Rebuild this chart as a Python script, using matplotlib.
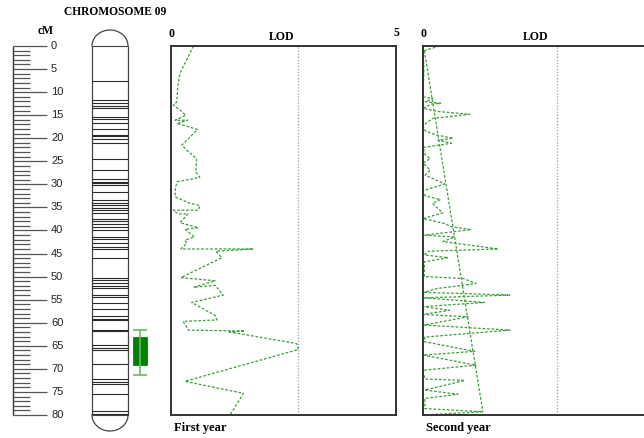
import numpy as np
import matplotlib
matplotlib.use("Agg")
import matplotlib.pyplot as plt

# genetic map of chromosome 9 (cM)
map_length = 80
band_cm = [7.6, 11.7, 12.3, 13.0, 13.4, 15.5, 15.9, 16.8, 18.1, 19.2, 19.5, 20.2, 21.0,
           24.6, 26.9, 28.9, 29.4, 29.8, 30.1, 31.6, 33.4, 34.0, 34.5, 35.2, 35.6, 36.2,
           37.4, 37.9, 38.6, 39.2, 39.8, 41.4, 41.9, 42.7, 43.5, 44.1, 45.9, 50.3, 50.8,
           51.3, 52.1, 52.4, 54.0, 54.4, 55.7, 57.1, 58.6, 59.1, 59.4, 61.5, 61.8, 64.9,
           65.4, 65.9, 69.0, 72.3, 72.8, 73.2, 75.4, 79.1, 79.7]

# QTL interval: box = 1-LOD support, whiskers = 2-LOD support
qtl_box = (63.1, 69.1)
qtl_whisker = (61.6, 71.3)

# LOD profile, first year
y1_cm = [0.0, 5.9, 8.8, 12.1, 12.8, 13.9, 15.0, 16.1, 16.1, 16.8, 17.6, 18.1, 21.5, 22.6,
         24.4, 27.3, 28.5, 29.4, 30.5, 32.7, 34.1, 34.6, 35.6, 35.6, 36.4, 36.4, 38.3,
         39.4, 39.7, 41.4, 42.1, 42.8, 44.0, 44.0, 44.5, 45.9, 50.2, 50.9, 52.3, 51.9,
         54.0, 55.6, 58.4, 59.4, 59.7, 61.6, 61.8, 62.0, 64.5, 65.8, 72.7, 75.3, 80.0]
y1_lod = [0.50, 0.20, 0.15, 0.13, 0.05, 0.20, 0.33, 0.09, 0.37, 0.13, 0.42, 0.59, 0.24, 0.35,
          0.57, 0.55, 0.64, 0.15, 0.10, 0.09, 0.42, 0.64, 0.61, 0.05, 0.16, 0.38, 0.20,
          0.61, 0.31, 0.52, 0.31, 0.35, 0.22, 1.83, 1.00, 1.13, 0.22, 0.98, 0.50, 0.98,
          1.16, 0.46, 0.98, 1.02, 0.27, 0.39, 1.64, 1.30, 2.79, 2.83, 0.31, 1.61, 1.31]

# LOD profile, second year
y2_cm = [0.0, 1.1, 5.0, 11.0, 11.4, 12.1, 12.4, 12.6, 13.5, 14.2, 14.8, 15.7, 16.4, 17.3,
         18.4, 19.3, 20.0, 20.4, 21.1, 22.0, 23.6, 24.4, 25.4, 26.9, 28.0, 29.9, 31.4,
         32.5, 33.3, 34.1, 36.2, 37.4, 38.5, 39.2, 39.8, 41.0, 41.4, 42.4, 44.0, 44.5,
         45.3, 45.9, 46.8, 50.0, 50.4, 51.5, 52.6, 53.4, 54.0, 54.6, 55.6, 56.5, 57.3,
         58.2, 58.7, 60.5, 61.6, 63.1, 64.1, 66.2, 67.0, 69.2, 70.3, 72.2, 72.5, 74.6,
         75.5, 76.4, 78.6, 79.3, 80.0]
y2_lod = [0.37, 0.00, 0.02, 0.00, 0.22, 0.05, 0.39, 0.19, 0.00, 0.33, 1.04, 0.22, 0.11, 0.00,
          0.05, 0.30, 0.67, 0.33, 0.63, 0.00, 0.05, 0.16, 0.00, 0.16, 0.05, 0.48, 0.00,
          0.05, 0.39, 0.21, 0.44, 0.00, 0.48, 0.63, 1.07, 0.04, 0.70, 0.44, 1.67, 0.11,
          0.03, 0.56, 0.03, 0.03, 0.89, 1.18, 0.30, 0.03, 1.93, 0.03, 1.37, 0.00, 0.59,
          0.00, 1.00, 0.03, 1.93, 0.04, 0.03, 1.15, 0.00, 1.18, 0.00, 0.04, 0.93, 0.04,
          0.78, 0.04, 0.04, 1.33, 0.00]
y2_trend_cm = [1.0, 79.3]
y2_trend_lod = [0.03, 1.33]

thresholds = [2.83, 2.97]
lod_max = 5

W, H = 644, 438
top_px, bottom_px = 46, 415
px_per_cm = (bottom_px - top_px) / map_length


def cm_at(py):
    return (py - top_px) / px_per_cm


def box(x0, x1, y0, y1):
    return [x0 / W, 1 - y1 / H, (x1 - x0) / W, (y1 - y0) / H]


serif = "Liberation Serif"
green = "#3c9e3c"
dash = (0, (2.2, 1.4))

fig = plt.figure(figsize=(W / 100, H / 100), dpi=100)

# ---- ruler and chromosome ----
ax0 = fig.add_axes([0, 0, 170 / W, 1])
ax0.set_xlim(0, 170)
ax0.set_ylim(cm_at(H), cm_at(0))
ax0.axis("off")

ticks = np.arange(0, map_length + 1)
ax0.vlines(12.5, 0, map_length, color="#333333", lw=1.0)
minor = ticks[ticks % 5 != 0]
major = ticks[ticks % 5 == 0]
ax0.hlines(minor, 12.5, 30, color="#555555", lw=0.9)
ax0.hlines(major, 12.5, 47, color="#555555", lw=0.9)
for t in major:
    ax0.text(51, t, str(t), fontsize=8, family="Liberation Sans", va="center", ha="left",
             color="#222222")
ax0.text(46, cm_at(31), "cM", fontsize=8.5, family=serif, weight="bold", ha="center",
         va="center")
ax0.text(115, cm_at(12), "CHROMOSOME 09", fontsize=8.3, family=serif, weight="bold",
         ha="center", va="center")

cx0, cx1 = 92, 128
cap = 16 / px_per_cm
ax0.vlines([cx0, cx1], 0, map_length, color="#444444", lw=0.9)
t = np.linspace(0, np.pi, 60)
xs = (cx0 + cx1) / 2 + (cx1 - cx0) / 2 * np.cos(t)
ax0.plot(xs, 0 - cap * np.sin(t), color="#444444", lw=0.9)
ax0.plot(xs, map_length + cap * np.sin(t), color="#444444", lw=0.9)
ax0.hlines([0, map_length], cx0, cx1, color="#444444", lw=0.8)
ax0.hlines(band_cm, cx0, cx1, color="#2a2a2a", lw=0.8)

# QTL marker
qx = 140
ax0.vlines(qx, qtl_whisker[0], qtl_whisker[1], color="#66bb66", lw=1.2)
ax0.hlines(qtl_whisker, qx - 7, qx + 7, color="#66bb66", lw=1.2)
ax0.bar(qx, qtl_box[1] - qtl_box[0], bottom=qtl_box[0], width=14, color="#008000",
        edgecolor="#006600", lw=0.5)

# ---- LOD panels ----
panels = [
    (171, 396, y1_lod, y1_cm, "First year", True),
    (423, 648, y2_lod, y2_cm, "Second year", False),
]
for i, (x0, x1, lod, cm, name, show_max) in enumerate(panels):
    ax = fig.add_axes(box(x0, x1, top_px, bottom_px))
    ax.set_xlim(0, lod_max)
    ax.set_ylim(map_length, 0)
    ax.set_xticks([])
    ax.set_yticks([])
    for s in ax.spines.values():
        s.set_color("#333333")
        s.set_linewidth(1.4)
    ax.axvline(thresholds[i], color="#aaaaaa", lw=1.0, ls=(0, (1, 1.2)))
    ax.plot(lod, cm, color=green, lw=0.9, ls=dash)
    if i == 1:
        ax.plot(y2_trend_lod, y2_trend_cm, color=green, lw=0.9, ls=dash)
    ax.text(0.02, -2.7, "0", fontsize=8.5, family=serif, weight="bold", ha="center",
            va="center", clip_on=False)
    ax.text(2.45 if i == 0 else 2.5, -2.0, "LOD", fontsize=8.5, family=serif,
            weight="bold", ha="center", va="center", clip_on=False)
    if show_max:
        ax.text(lod_max, -2.9, "5", fontsize=8.5, family=serif, weight="bold",
                ha="center", va="center", clip_on=False)
    ax.text(0.07, cm_at(428), name, fontsize=9, family=serif, weight="bold",
            ha="left", va="center", clip_on=False)

fig.savefig("out.png", dpi=100)
